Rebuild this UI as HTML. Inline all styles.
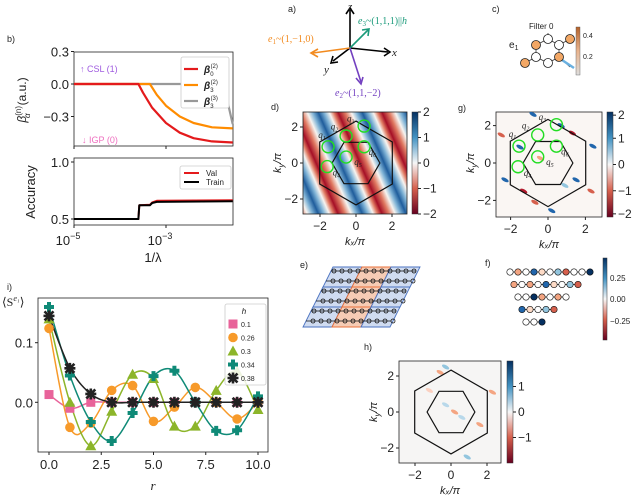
<!DOCTYPE html>
<html><head><meta charset="utf-8"><style>
body{margin:0;background:#fff;}
svg{display:block;font-family:"Liberation Sans","DejaVu Sans",sans-serif;}
text{fill:#222;}
</style></head><body>
<svg id="fig" width="640" height="497" viewBox="0 0 640 497" xmlns="http://www.w3.org/2000/svg">
<defs>
<linearGradient id="stripes" gradientUnits="userSpaceOnUse" x1="360" y1="163" x2="397" y2="147" spreadMethod="repeat">
<stop offset="0" stop-color="#a50f26"/><stop offset="0.16" stop-color="#e07a62"/><stop offset="0.3" stop-color="#f7f4f0"/><stop offset="0.42" stop-color="#7fb3d6"/><stop offset="0.55" stop-color="#1f5d9c"/><stop offset="0.68" stop-color="#7fb3d6"/><stop offset="0.8" stop-color="#f7f4f0"/><stop offset="0.9" stop-color="#e07a62"/><stop offset="1" stop-color="#a50f26"/>
</linearGradient>
<linearGradient id="cbRB" x1="0" y1="0" x2="0" y2="1">
<stop offset="0" stop-color="#053061"/><stop offset="0.25" stop-color="#4393c3"/><stop offset="0.5" stop-color="#f7f7f7"/><stop offset="0.75" stop-color="#d6604d"/><stop offset="1" stop-color="#67001f"/>
</linearGradient>
<linearGradient id="cbOr" x1="0" y1="0" x2="0" y2="1">
<stop offset="0" stop-color="#b5622a"/><stop offset="0.5" stop-color="#e9b48e"/><stop offset="1" stop-color="#dddddd"/>
</linearGradient>
</defs>

<text x="7" y="42" font-size="9">b)</text>
<text x="7" y="290" font-size="9">i)</text>
<text x="288" y="12" font-size="9">a)</text>
<text x="492" y="12" font-size="9">c)</text>
<text x="271" y="110" font-size="9">d)</text>
<text x="458" y="111" font-size="9">g)</text>
<text x="300" y="268" font-size="9">e)</text>
<text x="485" y="266" font-size="9">f)</text>
<text x="364" y="350" font-size="9">h)</text>

<g id="panelB"></g>
<g id="panelB2"></g>
<g id="panelI"></g>

<g stroke-width="1.6" fill="none">
<line x1="350" y1="48" x2="350" y2="10" stroke="#000"/><path d="M346,14 L350,8 L354,14" stroke="#000"/>
<line x1="350" y1="48" x2="388" y2="52" stroke="#000"/><path d="M384,48 L390,52 L384,56" stroke="#000"/>
<line x1="350" y1="48" x2="333" y2="61" stroke="#000"/><path d="M333,56 L331,63 L338,62" stroke="#000"/>
<line x1="350" y1="48" x2="313" y2="53" stroke="#f28a1e"/><path d="M318,49 L311,53 L318,57" stroke="#f28a1e"/>
<line x1="350" y1="48" x2="368" y2="30" stroke="#1a9a7a"/><path d="M362,30 L369,29 L368,36" stroke="#1a9a7a"/>
<line x1="350" y1="48" x2="361" y2="82" stroke="#7340c0"/><path d="M356,78 L361,84 L363,77" stroke="#7340c0"/>
</g>
<text x="348" y="10" font-size="11" font-style="italic" font-family="Liberation Serif">z</text>
<text x="392" y="56" font-size="11" font-style="italic" font-family="Liberation Serif">x</text>
<text x="324" y="73" font-size="11" font-style="italic" font-family="Liberation Serif">y</text>
<text x="358" y="24" font-size="10" font-family="Liberation Serif" style="fill:#1a9a7a"><tspan font-style="italic">e</tspan><tspan font-size="7" dy="2">3</tspan><tspan dy="-2">~(1,1,1)||</tspan><tspan font-style="italic">h</tspan></text>
<text x="268" y="42" font-size="10" font-family="Liberation Serif" style="fill:#f28a1e"><tspan font-style="italic">e</tspan><tspan font-size="7" dy="2">1</tspan><tspan dy="-2">~(1,−1,0)</tspan></text>
<text x="335" y="96" font-size="10" font-family="Liberation Serif" style="fill:#7340c0"><tspan font-style="italic">e</tspan><tspan font-size="7" dy="2">2</tspan><tspan dy="-2">~(1,1,−2)</tspan></text>

<text x="529" y="29" font-size="8">Filter 0</text>
<text x="509" y="48" font-size="10">e<tspan font-size="7" dy="2">1</tspan></text>
<g id="panelC"></g>
<rect x="576" y="27" width="4" height="48" fill="url(#cbOr)" stroke="#555" stroke-width="0.4"/>
<text x="583" y="38" font-size="7">0.4</text>
<text x="583" y="59" font-size="7">0.2</text>

<g>
<rect x="303" y="112" width="104" height="102" fill="url(#stripes)" stroke="#222" stroke-width="0.8"/>
<g id="hexD"></g>
<rect x="412" y="112" width="6" height="102" fill="url(#cbRB)" stroke="#333" stroke-width="0.5"/>
<g id="cbDTicks"></g>
<g id="axD"></g>
</g>
<g>
<rect x="496" y="112" width="106" height="105" fill="#faf6f3" stroke="#222" stroke-width="0.8"/>
<g id="spotsG"></g>
<g id="hexG"></g>
<rect x="607" y="112" width="6" height="105" fill="url(#cbRB)" stroke="#333" stroke-width="0.5"/>
<g id="cbGTicks"></g>
<g id="axG"></g>
</g>
<g>
<rect x="399" y="361" width="102" height="102" fill="#f6f5f4" stroke="#222" stroke-width="0.8"/>
<g id="spotsH"></g>
<g id="hexH"></g>
<rect x="507" y="361" width="6" height="102" fill="url(#cbRB)" stroke="#333" stroke-width="0.5"/>
<g id="cbHTicks"></g>
<g id="axH"></g>
</g>
<g id="panelE"></g>
<g id="panelF"></g>
<rect x="603" y="258" width="4" height="82" fill="url(#cbRB)" stroke="#333" stroke-width="0.5"/>
<text x="610" y="281" font-size="8">0.25</text>
<text x="610" y="302" font-size="8">0.00</text>
<text x="610" y="324" font-size="8">−0.25</text>
</svg>
<script>
var betaRedX=[-5,-3.6,-3.5,-3.3,-3.0,-2.7,-2.4,-2.0,-1.55];
var betaRedY=[0,0,-0.08,-0.22,-0.36,-0.45,-0.5,-0.53,-0.54];
var betaOrX=[-5,-3.35,-3.2,-3.0,-2.7,-2.4,-2.0,-1.55];
var betaOrY=[0,0,-0.1,-0.2,-0.3,-0.36,-0.4,-0.41];
var betaGrX=[-5,-1.75,-1.55];
var betaGrY=[0,0,-0.37];
var accX=[-5,-3.6,-3.58,-3.35,-3.3,-3.2,-1.55];
var accTrain=[0.5,0.5,0.62,0.62,0.64,0.65,0.655];
var accVal=[0.5,0.5,0.62,0.625,0.645,0.66,0.665];
var rVals=[0,1,2,3,4,5,6,7,8,9,10];
var hLabels=["0.1","0.26","0.3","0.34","0.38"];
var s01=[0.013,-0.01,0,0,0,0,0,0,0,0,0];
var s026=[0.124,-0.042,-0.035,0.02,0.028,-0.032,-0.008,0.025,0,-0.028,0];
var s03=[0.14,0.0,-0.073,-0.015,0.047,0.04,-0.04,-0.04,0.02,0.052,-0.012];
var s034=[0.16,0.045,-0.033,-0.065,-0.018,0.044,0.053,0,-0.048,-0.047,0.01];
var s038=[0.145,0.057,0.014,0,0,0,0,0,0,0,0];
var bTicks=["0.3","0.0","−0.3"];
var bTickVals=[0.3,0,-0.3];
var iXTicks=[0,2.5,5,7.5,10];
var iYTicks=[0,0.1];
var kTicks=[-2,0,2];

var NS="http://www.w3.org/2000/svg";
function mk(parent,tag,attrs){var e=document.createElementNS(NS,tag);for(var k in attrs)e.setAttribute(k,attrs[k]);parent.appendChild(e);return e;}
function txt(parent,x,y,s,size,anchor){var t=mk(parent,'text',{x:x,y:y,'font-size':size,'text-anchor':anchor||'start'});t.textContent=s;return t;}

var B=document.getElementById('panelB');
function bx(l){return 74+(l+5)*46;}
function by(v){return 84-v*108.3;}
var fr=mk(B,'rect',{x:74,y:52,width:159,height:94,fill:'none',stroke:'#222','stroke-width':0.8});


for(var i=0;i<bTickVals.length;i++){var y=by(bTickVals[i]);mk(B,'line',{x1:71,y1:y,x2:74,y2:y,stroke:'#222'});var t=txt(B,69,y+5,bTicks[i],13,'end');}
mk(B,'line',{x1:bx(-5),y1:146,x2:bx(-5),y2:149,stroke:'#222'});mk(B,'line',{x1:bx(-3),y1:146,x2:bx(-3),y2:149,stroke:'#222'});
function poly(g,xs,ys,fx,fy,col,w,name){var d='';for(var i=0;i<xs.length;i++)d+=(i?'L':'M')+fx(xs[i]).toFixed(1)+','+fy(ys[i]).toFixed(1);var p=mk(g,'path',{d:d,fill:'none',stroke:col,'stroke-width':w,'stroke-linejoin':'round'});return p;}
poly(B,betaGrX,betaGrY,bx,by,'#999',2.2,'beta3-3-line');
poly(B,betaOrX,betaOrY,bx,by,'#ff8c00',2.2,'beta3-2-line');
poly(B,betaRedX,betaRedY,bx,by,'#e41a1c',2.2,'beta0-2-line');
var t=txt(B,80,72,'↑ CSL (1)',9);t.setAttribute('style','fill:#a05ce0');
t=txt(B,82,143,'↓ IGP (0)',9);t.setAttribute('style','fill:#ee6fbf');
var lg=mk(B,'rect',{x:181,y:57,width:48,height:51,fill:'#fff',stroke:'#ccc','stroke-width':0.8,rx:2});

var lc=['#e41a1c','#ff8c00','#999'],ls=['0','3','3'],lu=['(2)','(2)','(3)'];
for(i=0;i<3;i++){var yy=69+i*16;mk(B,'line',{x1:184,y1:yy,x2:198,y2:yy,stroke:lc[i],'stroke-width':2.2});var tt=mk(B,'text',{x:204,y:yy+4,'font-size':10,'font-style':'italic','font-weight':'bold'});tt.textContent='β';var s1=mk(tt,'tspan',{'font-size':6,dy:3,'font-style':'normal','font-weight':'normal'});s1.textContent=ls[i];var s2=mk(tt,'tspan',{'font-size':6,dx:-3,dy:-8,'font-style':'normal','font-weight':'normal'});s2.textContent=lu[i];}
var yl=mk(B,'text',{x:0,y:0,'font-size':12,transform:'translate(26,100) rotate(-90)','text-anchor':'middle'});
var ya=mk(yl,'tspan',{'font-style':'italic'});ya.textContent='β';
var yb=mk(yl,'tspan',{'font-size':8,dy:-5});yb.textContent='(n)';
var yc=mk(yl,'tspan',{'font-size':8,dx:-12,dy:9,'font-style':'italic'});yc.textContent='α';
var yd=mk(yl,'tspan',{dx:8,dy:-4});yd.textContent='(a.u.)';


var B2=document.getElementById('panelB2');
function ay(v){return 219-(v-0.5)*114;}
fr=mk(B2,'rect',{x:74,y:158,width:159,height:67,fill:'none',stroke:'#222','stroke-width':0.8});

[[1.0,'1.0'],[0.5,'0.5']].forEach(function(p){var y=ay(p[0]);mk(B2,'line',{x1:71,y1:y,x2:74,y2:y,stroke:'#222'});var t=txt(B2,69,y+5,p[1],13,'end');});
[[-5,'10'],[-3,'10']].forEach(function(p){var x=bx(p[0]);mk(B2,'line',{x1:x,y1:225,x2:x,y2:228,stroke:'#222'});var t=mk(B2,'text',{x:x-6,y:245,'font-size':13,'text-anchor':'middle'});t.textContent=p[1];var s=mk(t,'tspan',{'font-size':9,dy:-6});s.textContent=(p[0]===-5?'−5':'−3');});
poly(B2,accX,accVal,bx,ay,'#e41a1c',2,'val-line');
poly(B2,accX,accTrain,bx,ay,'#000',2,'train-line');
lg=mk(B2,'rect',{x:180,y:166,width:51,height:23,fill:'#fff',stroke:'#ccc','stroke-width':0.8,rx:2});

mk(B2,'line',{x1:184,y1:173,x2:199,y2:173,stroke:'#e41a1c','stroke-width':2});t=txt(B2,206,176,'Val',8);
mk(B2,'line',{x1:184,y1:182,x2:199,y2:182,stroke:'#000','stroke-width':2});t=txt(B2,206,185,'Train',8);
yl=mk(B2,'text',{x:0,y:0,'font-size':13,transform:'translate(35,192) rotate(-90)','text-anchor':'middle'});yl.textContent='Accuracy';
t=txt(B2,153,262,'1/λ',13,'middle');

var I=document.getElementById('panelI');
function ix(r){return 49+r*20.9;}
function iy(v){return 402.3-v*596;}
fr=mk(I,'rect',{x:38,y:298,width:230,height:154,fill:'none',stroke:'#222','stroke-width':0.8});

iXTicks.forEach(function(v){var x=ix(v);mk(I,'line',{x1:x,y1:452,x2:x,y2:455,stroke:'#222'});var t=txt(I,x,469,v.toFixed(1),13,'middle');});
iYTicks.forEach(function(v){var y=iy(v);mk(I,'line',{x1:35,y1:y,x2:38,y2:y,stroke:'#222'});var t=txt(I,33,y+5,v.toFixed(1),13,'end');});
t=mk(I,'text',{x:153,y:490,'font-size':13,'font-style':'italic','font-family':'Liberation Serif','text-anchor':'middle'});t.textContent='r';
t=mk(I,'text',{x:2,y:306,'font-size':12,'font-family':'Liberation Serif'});t.textContent='⟨S';var sp=mk(t,'tspan',{'font-size':8,dy:-5,'font-style':'italic'});sp.textContent='e₁';var sp2=mk(t,'tspan',{dy:5});sp2.textContent='⟩';
var series=[s01,s026,s03,s034,s038];
var cols=['#e8639a','#f79a2a','#8cb52a','#0f8a77','#222'];
var shapes=['sq','ci','tr','pl','x'];
function smooth(g,ys,col,name){var pts=rVals.map(function(r,i){return [ix(r),iy(ys[i])];});var d='M'+pts[0][0]+','+pts[0][1];for(var i=0;i<pts.length-1;i++){var p0=pts[i-1]||pts[i],p1=pts[i],p2=pts[i+1],p3=pts[i+2]||p2;d+='C'+(p1[0]+(p2[0]-p0[0])/6).toFixed(1)+','+(p1[1]+(p2[1]-p0[1])/6).toFixed(1)+' '+(p2[0]-(p3[0]-p1[0])/6).toFixed(1)+','+(p2[1]-(p3[1]-p1[1])/6).toFixed(1)+' '+p2[0].toFixed(1)+','+p2[1].toFixed(1);}var p=mk(g,'path',{d:d,fill:'none',stroke:col,'stroke-width':1.5});}
function marker(g,s,x,y,col){var e;if(s==='sq')e=mk(g,'rect',{x:x-4.5,y:y-4.5,width:9,height:9,fill:col});else if(s==='ci')e=mk(g,'circle',{cx:x,cy:y,r:4.8,fill:col});else if(s==='tr')e=mk(g,'path',{d:'M'+x+','+(y-5.5)+'L'+(x+5.5)+','+(y+4.5)+'L'+(x-5.5)+','+(y+4.5)+'Z',fill:col});else if(s==='pl')e=mk(g,'path',{d:'M'+(x-2)+','+(y-5)+'h4v3h3v4h-3v3h-4v-3h-3v-4h3z',fill:col});else e=mk(g,'path',{d:'M'+(x-4.5)+','+(y-4.5)+'L'+(x+4.5)+','+(y+4.5)+'M'+(x+4.5)+','+(y-4.5)+'L'+(x-4.5)+','+(y+4.5)+'M'+x+','+(y-5.5)+'L'+x+','+(y+5.5)+'M'+(x-5.5)+','+y+'L'+(x+5.5)+','+y,stroke:col,'stroke-width':2.6});return e;}
for(var s=0;s<5;s++){smooth(I,series[s],cols[s],'fit-curve-h'+hLabels[s]);}
for(s=0;s<5;s++){for(var k=0;k<rVals.length;k++){var m=marker(I,shapes[s],ix(rVals[k]),iy(series[s][k]),cols[s]);}}
lg=mk(I,'rect',{x:225,y:304,width:41,height:81,fill:'#fff','fill-opacity':0.85,stroke:'#ccc','stroke-width':0.8,rx:2});

t=mk(I,'text',{x:244,y:314,'font-size':8,'font-style':'italic','text-anchor':'middle'});t.textContent='h';
for(s=0;s<5;s++){var yy=324+s*13.5;marker(I,shapes[s],233,yy,cols[s]);var tl=txt(I,241,yy+3,hLabels[s],7);}

function hexes(gid,cx,cy,sc){var g=document.getElementById(gid);var d='',d2='';for(var i=0;i<6;i++){var a=Math.PI/2+i*Math.PI/3;d+=(i?'L':'M')+(cx+2.33*sc*Math.cos(a)).toFixed(1)+','+(cy-2.33*sc*Math.sin(a)).toFixed(1);var b=i*Math.PI/3;d2+=(i?'L':'M')+(cx+1.33*sc*Math.cos(b)).toFixed(1)+','+(cy-1.33*sc*Math.sin(b)).toFixed(1);}var p=mk(g,'path',{d:d+'Z',fill:'none',stroke:'#111','stroke-width':1.2});p=mk(g,'path',{d:d2+'Z',fill:'none',stroke:'#111','stroke-width':1.2});}
function axes(gid,cx,cy,sc,x0,y0,x1,y1){var g=document.getElementById(gid);kTicks.forEach(function(v){var x=cx+v*sc;mk(g,'line',{x1:x,y1:y1,x2:x,y2:y1+3,stroke:'#222'});var t=txt(g,x,y1+16,v<0?'−2':String(v),12,'middle');var y=cy-v*sc;mk(g,'line',{x1:x0-3,y1:y,x2:x0,y2:y,stroke:'#222'});t=txt(g,x0-5,y+4,v<0?'−2':String(v),12,'end');});var t=mk(g,'text',{x:(x0+x1)/2,y:y1+31,'font-size':11,'font-style':'italic','text-anchor':'middle'});t.textContent='kₓ/π';t=mk(g,'text',{x:0,y:0,'font-size':11,'font-style':'italic','text-anchor':'middle',transform:'translate('+(x0-22)+','+cy+') rotate(-90)'});t.textContent='k';var ts=mk(t,'tspan',{'font-size':8,dy:3});ts.textContent='y';var ts2=mk(t,'tspan',{dy:-3});ts2.textContent='/π';}
function cbt(gid,x,y0,y1,vals,labs){var g=document.getElementById(gid);for(var i=0;i<vals.length;i++){var y=y0+(y1-y0)*vals[i];mk(g,'line',{x1:x,y1:y,x2:x+3,y2:y,stroke:'#222'});var t=txt(g,x+5,y+4,labs[i],12);}}
hexes('hexD',356,163,18);axes('axD',356,163,18,303,112,407,214);
cbt('cbDTicks',418,112,214,[0,0.25,0.5,0.75,1],['2','1','0','−1','−2']);
hexes('hexG',548,163,18.7);axes('axG',548,163,18.7,496,112,602,217);
cbt('cbGTicks',613,112,217,[0.03,0.25,0.5,0.75,0.97],['2','1','0','−1','−2']);
hexes('hexH',451,412,18);axes('axH',451,412,18,399,361,501,463);
cbt('cbHTicks',513,361,463,[0.25,0.5,0.75],['1','0','−1']);
function qmarks(gid,cx,cy,sc){var g=document.getElementById(gid);var circ=[[-1.55,0.9],[-1.6,-0.2],[-0.55,1.5],[0.45,2.05],[0.45,0.9],[-0.55,0.33]];circ.forEach(function(c){var e=mk(g,'circle',{cx:cx+c[0]*sc,cy:cy-c[1]*sc,r:6,fill:'none',stroke:'#22dd22','stroke-width':1.4});});var ql=[[-2.1,1.4,'1'],[-1.4,1.85,'2'],[-0.5,2.3,'3'],[-1.3,-0.7,'4'],[-0.1,-0.1,'5'],[0.7,0.45,'6']];ql.forEach(function(q){var t=mk(g,'text',{x:cx+q[0]*sc,y:cy-q[1]*sc,'font-size':9,'font-style':'italic','font-family':'Liberation Serif'});t.textContent='q';var s=mk(t,'tspan',{'font-size':6,dy:2});s.textContent=q[2];});}
qmarks('hexD',356,163,18);qmarks('hexG',548,163,18.7);
function spots(gid,list,cx,cy,sc){var g=document.getElementById(gid);list.forEach(function(s){var e=mk(g,'ellipse',{cx:cx+s[0]*sc,cy:cy-s[1]*sc,rx:4,ry:1.8,fill:s[2],transform:'rotate(28 '+(cx+s[0]*sc)+' '+(cy-s[1]*sc)+')'});});}
spots('spotsG',[[-2.5,1.5,'#d6604d'],[-2.3,-0.9,'#2166ac'],[-1.5,0.85,'#2166ac'],[-0.4,0.25,'#f4a582'],[0.7,2.0,'#2166ac'],[1.3,1.6,'#b2182b'],[2.4,0.9,'#2166ac'],[1.5,-0.9,'#2166ac'],[2.3,-1.5,'#d6604d'],[-1.3,-1.5,'#b2182b'],[-0.7,-2.1,'#d6604d'],[0.2,-2.55,'#2166ac'],[-0.8,2.6,'#2166ac'],[0.9,-1.2,'#92c5de']],548,163,18.7);
spots('spotsH',[[-0.3,2.5,'#92c5de'],[-0.6,2.2,'#f4a582'],[-1.2,1.2,'#fbd0c0'],[-0.3,0.4,'#b8d8ea'],[0.2,0.0,'#f4a582'],[0.6,-0.3,'#b8d8ea'],[1.6,-0.7,'#f4a582'],[2.3,1.1,'#f4a582'],[0.9,-2.5,'#92c5de']],451,412,18);

var C=document.getElementById('panelC');
var cn=[[525,63,1],[536,57,0],[548,63,0],[559,57,1],[536,45,1],[548,39,0],[559,45,0],[570,39,1]];
mk(C,'path',{d:'M525,63L536,57L548,63L559,57L570,67M536,57L536,45L548,39L559,45L559,57M559,45L570,39M548,39L548,33',stroke:'#333','stroke-width':0.8,fill:'none'});
mk(C,'line',{x1:562,y1:60,x2:574,y2:68,stroke:'#6ab0e0','stroke-width':2.5});
cn.forEach(function(n){var e=mk(C,'circle',{cx:n[0],cy:n[1],r:4.5,fill:n[2]?'#f2a765':'#fff',stroke:'#222','stroke-width':0.8});});

// panel e: 3x3 parallelogram cells, x 303..420, y 267..327
var E=document.getElementById('panelE');
for(var row=0;row<3;row++){for(var c=0;c<3;c++){var x0=333+c*29-row*10,y0=267+row*20;var col=(c===1)?'#f4c3a8':'#c8d6ee';var st=(c===1)?'#e8703a':'#4a72c0';var p=mk(E,'path',{d:'M'+x0+','+y0+'l29,0l-10,20l-29,0z',fill:col,stroke:st,'stroke-width':0.9,'fill-opacity':0.85});}}
for(row=0;row<6;row++){var yr=271+row*10,xr=331-row*5;mk(E,'line',{x1:xr,y1:yr,x2:xr+85,y2:yr,stroke:'#111','stroke-width':0.7});for(c=0;c<11;c++){var xx=xr+3+c*8+((row%2)?4:0);var ci=mk(E,'circle',{cx:xx,cy:yr,r:2,fill:'none',stroke:'#111','stroke-width':0.8});}}

// panel f
var F=document.getElementById('panelF');
var fcols=['#fff','#f4a582','#fff','#2166ac','#fddbc7','#fff','#92c5de','#d6604d','#fff','#fff','#053061','#f4a582'];
var nrow=5,k2=0;
for(row=0;row<nrow;row++){var n=10-row*2;var y=272+row*12.5;var xs=510-row*3+row*7;mk(F,'line',{x1:xs,y1:y,x2:xs+n*8,y2:y,stroke:'#111','stroke-width':0.7});for(c=0;c<=n;c++){var cc=fcols[(k2++)%fcols.length];var e=mk(F,'circle',{cx:xs+c*8,cy:y,r:3.2,fill:cc,stroke:'#111','stroke-width':0.6});}}
</script>
</body></html>
